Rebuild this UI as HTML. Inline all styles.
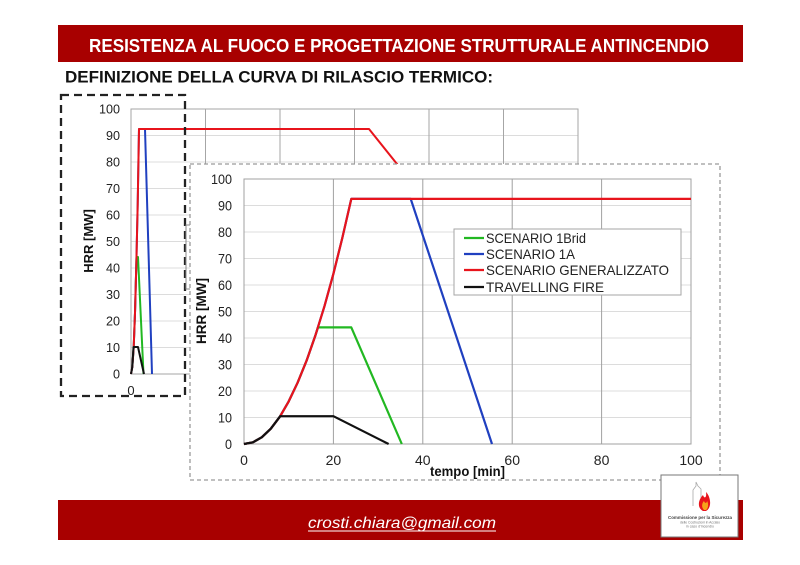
<!DOCTYPE html>
<html><head><meta charset="utf-8"><style>
html,body{margin:0;padding:0;background:#fff;}
svg{display:block;}
text{font-family:"Liberation Sans",Arial,sans-serif;}
</style></head><body>
<svg width="800" height="565" viewBox="0 0 800 565" xmlns="http://www.w3.org/2000/svg">
<rect width="800" height="565" fill="#fff"/>
<!-- header -->
<rect x="58" y="25" width="685" height="37" fill="#a80000"/>
<text x="89" y="52" font-size="18" font-weight="bold" fill="#fff" textLength="620" lengthAdjust="spacingAndGlyphs">RESISTENZA AL FUOCO E PROGETTAZIONE STRUTTURALE ANTINCENDIO</text>
<text x="65" y="82.5" font-size="16.5" font-weight="bold" fill="#111" textLength="428" lengthAdjust="spacingAndGlyphs">DEFINIZIONE DELLA CURVA DI RILASCIO TERMICO:</text>

<!-- background chart -->
<g stroke-width="1" fill="none">
<g stroke="#dcdcdc">
<line x1="131" y1="135.5" x2="578" y2="135.5"/><line x1="131" y1="162" x2="578" y2="162"/>
<line x1="131" y1="188.5" x2="578" y2="188.5"/><line x1="131" y1="215" x2="578" y2="215"/>
<line x1="131" y1="241.5" x2="578" y2="241.5"/><line x1="131" y1="268" x2="578" y2="268"/>
<line x1="131" y1="294.5" x2="578" y2="294.5"/><line x1="131" y1="321" x2="578" y2="321"/>
<line x1="131" y1="347.5" x2="578" y2="347.5"/>
</g>
<g stroke="#a6a6a6">
<line x1="205.5" y1="109" x2="205.5" y2="374"/><line x1="280" y1="109" x2="280" y2="374"/>
<line x1="354.5" y1="109" x2="354.5" y2="374"/><line x1="429" y1="109" x2="429" y2="374"/>
<line x1="503.5" y1="109" x2="503.5" y2="374"/>
<rect x="131" y="109" width="447" height="265"/>
</g>
</g>
<g font-size="13" fill="#222" text-anchor="end">
<text x="120" y="113.5" textLength="21" lengthAdjust="spacingAndGlyphs">100</text>
<text x="120" y="140" textLength="14" lengthAdjust="spacingAndGlyphs">90</text>
<text x="120" y="166.5" textLength="14" lengthAdjust="spacingAndGlyphs">80</text>
<text x="120" y="193" textLength="14" lengthAdjust="spacingAndGlyphs">70</text>
<text x="120" y="219.5" textLength="14" lengthAdjust="spacingAndGlyphs">60</text>
<text x="120" y="246" textLength="14" lengthAdjust="spacingAndGlyphs">50</text>
<text x="120" y="272.5" textLength="14" lengthAdjust="spacingAndGlyphs">40</text>
<text x="120" y="299" textLength="14" lengthAdjust="spacingAndGlyphs">30</text>
<text x="120" y="325.5" textLength="14" lengthAdjust="spacingAndGlyphs">20</text>
<text x="120" y="352" textLength="14" lengthAdjust="spacingAndGlyphs">10</text>
<text x="120" y="378.5" textLength="7" lengthAdjust="spacingAndGlyphs">0</text>
</g>
<text x="131" y="395" font-size="13" fill="#222" text-anchor="middle">0</text>
<text transform="translate(93,241) rotate(-90)" font-size="13" font-weight="bold" fill="#111" text-anchor="middle">HRR [MW]</text>
<g fill="none" stroke-width="2" stroke-linejoin="round">
<polyline stroke="#22b822" points="131,374 132.3,367 133.7,347 135,313 136.5,257 138,257 143.5,374"/>
<polyline stroke="#2040c0" points="131,374 132.3,367 133.7,347 135,313 136.3,265 137.7,204 139,129 145,129 152,374"/>
<polyline stroke="#e8141c" points="131,374 132.3,367 133.7,347 135,313 136.3,265 137.7,204 139,129 369,129 565,374"/>
<polyline stroke="#111" points="131,374 132.3,367 133.5,347 138,347 144,374"/>
</g>
<!-- black dashed box -->
<rect x="61" y="95" width="124" height="301" fill="none" stroke="#222" stroke-width="2.3" stroke-dasharray="8 5"/>
<path d="M190,225 H186 V289 H190" fill="none" stroke="#888" stroke-width="1"/>

<!-- inset -->
<rect x="190" y="164" width="530" height="316" fill="#fff" stroke="#9a9a9a" stroke-width="1.3" stroke-dasharray="4 3"/>
<g fill="none" stroke-width="1">
<g stroke="#dcdcdc">
<line x1="244" y1="205.5" x2="691" y2="205.5"/><line x1="244" y1="232" x2="691" y2="232"/>
<line x1="244" y1="258.5" x2="691" y2="258.5"/><line x1="244" y1="285" x2="691" y2="285"/>
<line x1="244" y1="311.5" x2="691" y2="311.5"/><line x1="244" y1="338" x2="691" y2="338"/>
<line x1="244" y1="364.5" x2="691" y2="364.5"/><line x1="244" y1="391" x2="691" y2="391"/>
<line x1="244" y1="417.5" x2="691" y2="417.5"/>
</g>
<g stroke="#a0a0a0">
<line x1="333.4" y1="179" x2="333.4" y2="444"/><line x1="422.8" y1="179" x2="422.8" y2="444"/>
<line x1="512.2" y1="179" x2="512.2" y2="444"/><line x1="601.6" y1="179" x2="601.6" y2="444"/>
<rect x="244" y="179" width="447" height="265"/>
</g>
</g>
<g font-size="14" fill="#222" text-anchor="end">
<text x="232" y="184" textLength="21" lengthAdjust="spacingAndGlyphs">100</text>
<text x="232" y="210.5" textLength="14" lengthAdjust="spacingAndGlyphs">90</text>
<text x="232" y="237" textLength="14" lengthAdjust="spacingAndGlyphs">80</text>
<text x="232" y="263.5" textLength="14" lengthAdjust="spacingAndGlyphs">70</text>
<text x="232" y="290" textLength="14" lengthAdjust="spacingAndGlyphs">60</text>
<text x="232" y="316.5" textLength="14" lengthAdjust="spacingAndGlyphs">50</text>
<text x="232" y="343" textLength="14" lengthAdjust="spacingAndGlyphs">40</text>
<text x="232" y="369.5" textLength="14" lengthAdjust="spacingAndGlyphs">30</text>
<text x="232" y="396" textLength="14" lengthAdjust="spacingAndGlyphs">20</text>
<text x="232" y="422.5" textLength="14" lengthAdjust="spacingAndGlyphs">10</text>
<text x="232" y="449" textLength="7" lengthAdjust="spacingAndGlyphs">0</text>
</g>
<g font-size="14" fill="#222" text-anchor="middle">
<text x="244" y="465">0</text>
<text x="333.4" y="465">20</text>
<text x="422.8" y="465">40</text>
<text x="512.2" y="465">60</text>
<text x="601.6" y="465">80</text>
<text x="691" y="465">100</text>
</g>
<text x="430" y="476" font-size="13.5" font-weight="bold" fill="#111" textLength="75" lengthAdjust="spacingAndGlyphs">tempo [min]</text>
<text transform="translate(206,311) rotate(-90)" font-size="13.5" font-weight="bold" fill="#111" text-anchor="middle">HRR [MW]</text>

<g fill="none" stroke-width="2.2" stroke-linejoin="round">
<polyline stroke="#22b822" points="244,444 252.9,442.3 261.9,437.2 270.8,428.7 279.8,416.8 288.7,401.4 297.6,382.7 306.6,360.6 315.5,335.1 318,327.4 351.3,327.4 401.8,444"/>
<polyline stroke="#2040c0" points="244,444 252.9,442.3 261.9,437.2 270.8,428.7 279.8,416.8 288.7,401.4 297.6,382.7 306.6,360.6 315.5,335.1 324.5,306.1 333.4,273.8 342.3,238 351.3,198.9 410.7,198.9 492,444"/>
<polyline stroke="#e8141c" points="244,444 252.9,442.3 261.9,437.2 270.8,428.7 279.8,416.8 288.7,401.4 297.6,382.7 306.6,360.6 315.5,335.1 324.5,306.1 333.4,273.8 342.3,238 351.3,198.9 691,198.9"/>
<polyline stroke="#111" points="244,444 252.9,442.3 261.9,437.2 270.8,428.7 280.2,416.2 333.4,416.2 388.6,444"/>
</g>

<!-- legend -->
<rect x="454" y="229" width="227" height="66" fill="#fff" stroke="#a6a6a6" stroke-width="1"/>
<g stroke-width="2.2">
<line x1="464" y1="238" x2="484" y2="238" stroke="#22b822"/>
<line x1="464" y1="254" x2="484" y2="254" stroke="#2040c0"/>
<line x1="464" y1="270" x2="484" y2="270" stroke="#e8141c"/>
<line x1="464" y1="287" x2="484" y2="287" stroke="#111"/>
</g>
<g font-size="14" fill="#222">
<text x="486" y="243" textLength="100" lengthAdjust="spacingAndGlyphs">SCENARIO 1Brid</text>
<text x="486" y="259" textLength="89" lengthAdjust="spacingAndGlyphs">SCENARIO 1A</text>
<text x="486" y="275" textLength="183" lengthAdjust="spacingAndGlyphs">SCENARIO GENERALIZZATO</text>
<text x="486" y="292" textLength="118" lengthAdjust="spacingAndGlyphs">TRAVELLING FIRE</text>
</g>

<!-- footer -->
<rect x="58" y="500" width="685" height="40" fill="#a80000"/>
<text x="308" y="528" font-size="16" font-style="italic" fill="#fff" textLength="188" lengthAdjust="spacingAndGlyphs">crosti.chiara@gmail.com</text>
<line x1="308" y1="531" x2="496" y2="531" stroke="#fff" stroke-width="1"/>

<!-- logo -->
<rect x="661" y="475" width="77" height="62" fill="#fff" stroke="#777" stroke-width="1"/>
<path d="M693,506 V490 L696,486 V482 L698,486 L701,489 V506" fill="none" stroke="#aaa" stroke-width="0.8"/>
<path d="M703,511 C697,508 698,500 703,495 C704,499 707,498 706,492 C711,497 712,508 706,511 Z" fill="#e8141c"/>
<path d="M704,510 C701,507 702,503 704,501 C705,504 707,503 707,501 C709,504 708,509 706,510 Z" fill="#f6a21a"/>
<text x="668" y="519" font-size="4.5" font-weight="bold" fill="#444" textLength="64" lengthAdjust="spacingAndGlyphs">Commissione per la Sicurezza</text>
<text x="680" y="523.5" font-size="3.5" fill="#777" textLength="40" lengthAdjust="spacingAndGlyphs">delle Costruzioni in Acciaio</text>
<text x="686" y="527.5" font-size="3.5" fill="#777" textLength="28" lengthAdjust="spacingAndGlyphs">in caso d'Incendio</text>
</svg>
</body></html>
